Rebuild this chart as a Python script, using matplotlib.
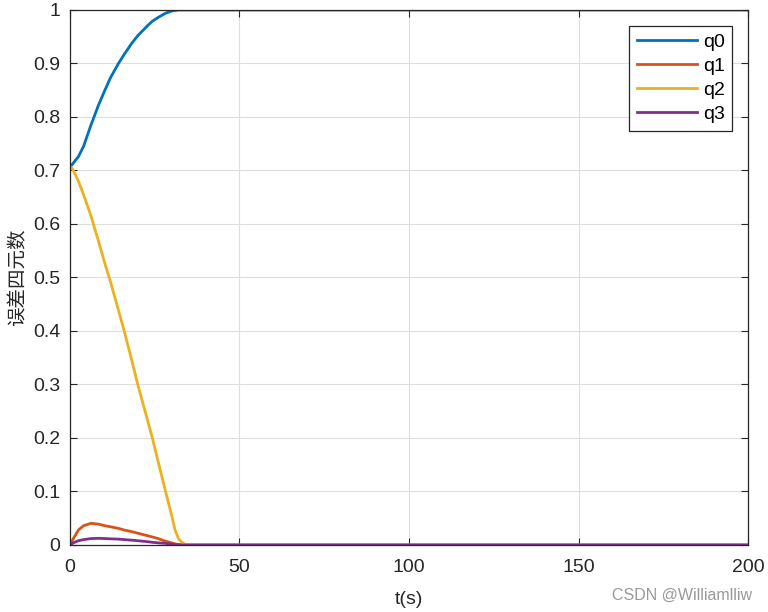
import numpy as np
import matplotlib
matplotlib.use('Agg')
import matplotlib.pyplot as plt

plt.rcParams['font.family'] = ['Liberation Sans', 'DejaVu Sans']

# tiempo y componentes del cuaternión de error
t = [0, 0.5, 1, 2.5, 4, 6.2, 8.4, 10.3, 12, 14.3, 16, 18.2, 20, 23.1, 24.3,
     26, 28.2, 30, 31, 32, 33, 34, 35, 40, 200]
q0 = [0.707, 0.710, 0.714, 0.726, 0.745, 0.785, 0.822, 0.850, 0.874, 0.900,
      0.917, 0.9375, 0.952, 0.972, 0.979, 0.986, 0.994, 0.998, 0.999, 1.0,
      1.0, 1.0, 1.0, 1.0, 1.0]
q1 = [0.0, 0.006, 0.012, 0.028, 0.036, 0.0405, 0.039, 0.036, 0.034, 0.031,
      0.028, 0.025, 0.022, 0.017, 0.015, 0.012, 0.007, 0.004, 0.002, 0.001,
      0.0, 0.0, 0.0, 0.0, 0.0]
q2 = [0.707, 0.705, 0.700, 0.680, 0.655, 0.615, 0.568, 0.526, 0.491, 0.439,
      0.400, 0.346, 0.300, 0.228, 0.200, 0.156, 0.100, 0.055, 0.028, 0.012,
      0.005, 0.001, 0.0, 0.0, 0.0]
q3 = [0.0, 0.002, 0.004, 0.008, 0.010, 0.012, 0.0125, 0.012, 0.0115, 0.011,
      0.010, 0.009, 0.008, 0.006, 0.005, 0.004, 0.003, 0.0015, 0.001, 0.0005,
      0.0, 0.0, 0.0, 0.0, 0.0]

series = [('q0', q0, '#0072BD'), ('q1', q1, '#D95319'),
          ('q2', q2, '#EDB120'), ('q3', q3, '#7E2F8E')]

fig = plt.figure(figsize=(7.68, 6.12), dpi=100)
ax = fig.add_axes([0.0911, 0.1095, 0.8829, 0.8742])

for name, vals, col in series:
    ax.plot(t, vals, color=col, linewidth=2.0, label=name)

ax.set_xlim(0, 200)
ax.set_ylim(0, 1)
ax.set_xticks([0, 50, 100, 150, 200])
ax.set_yticks(np.arange(0, 1.01, 0.1))
ax.set_yticklabels(['0', '0.1', '0.2', '0.3', '0.4', '0.5', '0.6', '0.7',
                    '0.8', '0.9', '1'])
ax.grid(True, color='#dedede', linewidth=0.8)
ax.tick_params(direction='in', top=True, right=True, labelsize=14,
               colors='#262626', length=5)
ax.tick_params(axis='x', pad=10)
ax.tick_params(axis='y', pad=7)
for s in ax.spines.values():
    s.set_color('#262626')
    s.set_linewidth(0.9)

ax.set_xlabel('t(s)', fontsize=14, color='#262626', labelpad=11)
ax.set_ylabel('误差四元数', fontsize=14, color='#262626',
              family=['Noto Sans CJK SC', 'DejaVu Sans'], labelpad=3)

leg = ax.legend(loc='upper right', fontsize=14, fancybox=False,
                edgecolor='#262626', framealpha=1, handlelength=3.1,
                borderaxespad=0.8, labelspacing=0.33, handletextpad=0.3,
                borderpad=0.4)
leg.get_frame().set_linewidth(0.9)

fig.text(0.979, 0.015, 'CSDN @Williamlliw', ha='right', va='bottom',
         fontsize=11.5, color='#999999')

fig.savefig('out.png', dpi=100)
